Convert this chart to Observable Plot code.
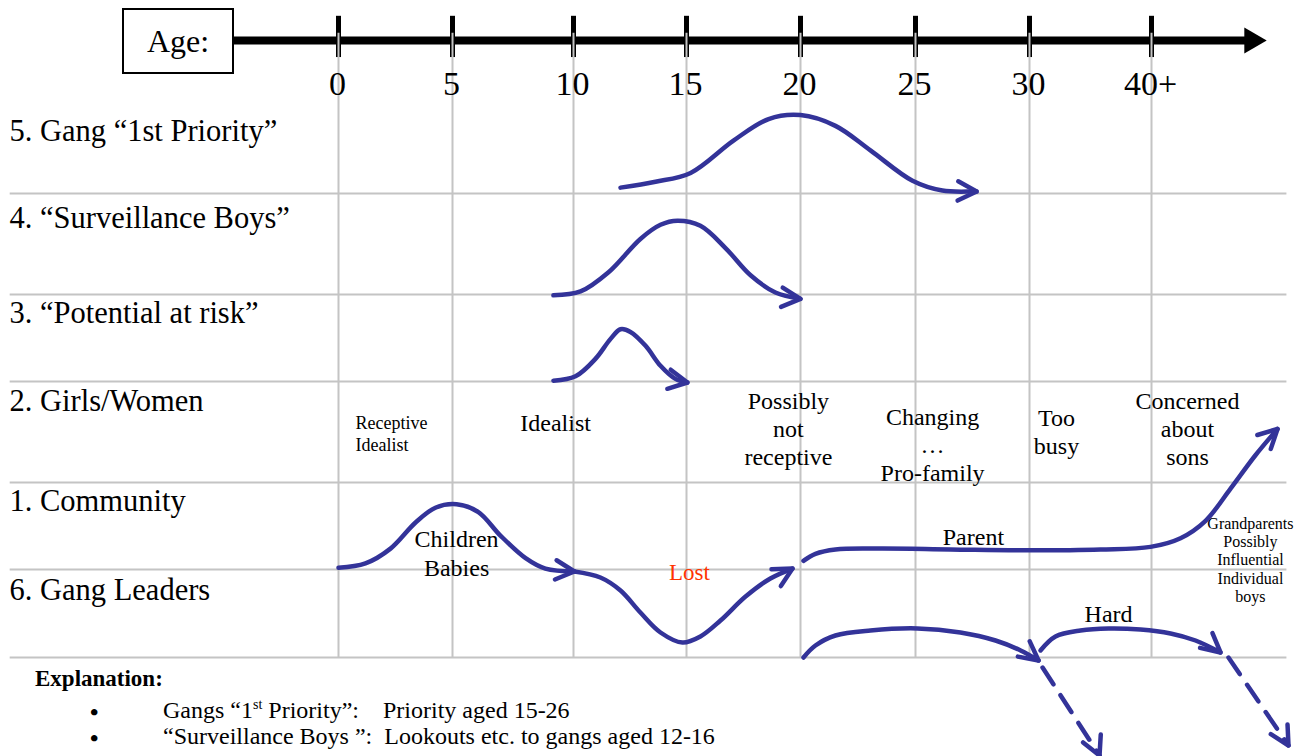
<!DOCTYPE html>
<html>
<head>
<meta charset="utf-8">
<script src="https://cdn.jsdelivr.net/npm/d3@7"></script>
<script src="https://cdn.jsdelivr.net/npm/@observablehq/plot@0.6"></script>
<style>
  body { margin: 0; background: #fff; }
  #wrap { position: relative; width: 1303px; height: 756px; overflow: hidden; font-family: "Liberation Serif", Tinos, "Times New Roman", Times, serif; color: #000; }
  #wrap svg { position: absolute; left: 0; top: 0; }
  #agebox { position: absolute; left: 122px; top: 8px; width: 112px; height: 66px; box-sizing: border-box; border: 2px solid #000; font-size: 32px; display: flex; align-items: center; justify-content: center; background: #fff; }
  .ln { position: absolute; white-space: pre; line-height: 1; }
  .h { left: 35px; top: 667px; font-size: 23px; font-weight: bold; }
  .b { left: 90px; font-size: 24px; font-weight: bold; height: 22px; overflow: visible; }
  .t { left: 163px; font-size: 24px; }
  sup { font-size: 14px; vertical-align: 9px; line-height: 0; }
</style>
</head>
<body>
<div id="wrap">
  <div id="agebox">Age:</div>
  <div class="ln h">Explanation:</div>
  <div class="ln b" style="top:700px">•</div>
  <div class="ln t" style="top:698px">Gangs “1<sup>st</sup> Priority”:    Priority aged 15-26</div>
  <div class="ln b" style="top:726px">•</div>
  <div class="ln t" style="top:724px">“Surveillance Boys ”:  Lookouts etc. to gangs aged 12-16</div>
</div>
<script>
// ---- axis / grid ----
const ageTicks = [0, 5, 10, 15, 20, 25, 30, 40];
const ageTickLabels = ["0", "5", "10", "15", "20", "25", "30", "40+"];
const levelStops = [0, 1, 2, 3, 4, 5, 6, 7];
const rowLines = [0, 1, 2, 3, 4, 5];
const rowLabels = ["5. Gang “1st Priority”", "4. “Surveillance Boys”", "3. “Potential at risk”", "2. Girls/Women", "1. Community", "6. Gang Leaders"];
const rowLabelLevels = [5.64, 4.76, 3.79, 2.80, 1.78, 0.77];

// ---- curves (age, level) ----
const priorityAge = [12.08, 13.63, 15.18, 17.06, 18.60, 20.0, 21.52, 23.04, 24.87, 26.18, 27.50, 27.68];
const priorityLevel = [5.06, 5.12, 5.21, 5.54, 5.76, 5.80, 5.69, 5.44, 5.13, 5.03, 5.02, 5.02];
const surveillanceAge = [9.17, 10.31, 11.55, 12.96, 13.85, 14.60, 15.61, 16.71, 17.81, 18.90, 20.0];
const surveillanceLevel = [3.99, 4.03, 4.22, 4.55, 4.69, 4.73, 4.68, 4.46, 4.19, 4.02, 3.95];
const potentialAge = [9.17, 10.09, 10.97, 11.64, 12.08, 12.52, 13.19, 13.85, 14.51, 15.04];
const potentialLevel = [3.01, 3.06, 3.26, 3.49, 3.60, 3.57, 3.41, 3.18, 3.03, 2.99];
const communityAge = [0, 1.18, 2.28, 3.38, 4.25, 5.17, 6.07, 6.98, 8.02, 8.84, 10.04];
const communityLevel = [1.02, 1.07, 1.24, 1.54, 1.71, 1.75, 1.66, 1.39, 1.13, 1.01, 0.977];
const lostAge = [10.04, 11.19, 12.08, 12.96, 13.85, 14.82, 15.61, 16.49, 17.59, 18.68, 19.65];
const lostLevel = [0.977, 0.909, 0.761, 0.511, 0.284, 0.170, 0.239, 0.420, 0.693, 0.898, 1.011];
const parentAge = [20.13, 20.65, 21.52, 23.48, 26.54, 30.0, 35.82, 39.92, 42.38, 44.43, 46.48, 48.52, 50.33];
const parentLevel = [1.10, 1.18, 1.23, 1.24, 1.23, 1.22, 1.23, 1.26, 1.36, 1.56, 1.93, 2.27, 2.53];
const hard1Age = [20.13, 20.65, 21.52, 23.04, 25.09, 26.97, 28.51, 29.61, 30.74];
const hard1Level = [0, 0.136, 0.25, 0.307, 0.33, 0.284, 0.193, 0.08, -0.034];
const hard2Age = [30.90, 32.13, 34.18, 36.48, 39.10, 41.56, 43.61, 45.66];
const hard2Level = [0.08, 0.239, 0.307, 0.330, 0.318, 0.273, 0.193, 0.057];
const dashed1Age = [31.07, 35.74];
const dashed1Level = [-0.114, -1.114];
const dashed2Age = [46.31, 51.23];
const dashed2Level = [0, -1.0];

// ---- arrowheads ----
const headAge = [27.68, 20.0, 15.04, 10.04, 19.65, 50.33, 30.74, 45.66, 35.74, 51.23];
const headLevel = [5.02, 3.95, 2.99, 0.977, 1.011, 2.53, -0.034, 0.057, -1.114, -1.0];
const headAngle = [92, 95, 100, 95, 61, 46, 128, 130, 156, 150];

// ---- annotations ----
const noteText = ["Idealist", "Possibly\nnot\nreceptive", "Changing\n…\nPro-family", "Too\nbusy", "Concerned\nabout\nsons", "Children\nBabies", "Parent", "Hard"];
const noteAge = [9.26, 19.47, 25.75, 32.21, 42.95, 5.17, 27.54, 36.48];
const noteLevel = [2.60, 2.54, 2.38, 2.51, 2.54, 1.195, 1.39, 0.511];

const blue = "#333399";
const serif = "'Liberation Serif', Tinos, 'Times New Roman', Times, serif";
const zip = (a, b) => a.map((v, i) => ({x: v, y: b[i]}));
const curves = [
  [priorityAge, priorityLevel], [surveillanceAge, surveillanceLevel], [potentialAge, potentialLevel],
  [communityAge, communityLevel], [lostAge, lostLevel], [parentAge, parentLevel],
  [hard1Age, hard1Level], [hard2Age, hard2Level]
].map(([a, b]) => zip(a, b));
const dashed = [[dashed1Age, dashed1Level], [dashed2Age, dashed2Level]].map(([a, b]) => zip(a, b));
const heads = headAge.map((a, i) => ({x: a, y: headLevel[i], r: headAngle[i]}));
const notes = noteText.map((t, i) => ({t, x: noteAge[i], y: noteLevel[i]}));
const ticks = ageTicks.map((a, i) => ({x: a, t: ageTickLabels[i]}));
const rows = rowLabels.map((t, i) => ({t, y: rowLabelLevels[i]}));

const chevron = {
  draw(context, l) {
    const a = l * 0.46, b = l * 0.89;
    context.moveTo(-a, b);
    context.lineTo(0, 0);
    context.lineTo(a, b);
  }
};

const lineStyle = {stroke: blue, strokeWidth: 4.5, strokeLinecap: "round", strokeLinejoin: "round", curve: "catmull-rom"};
const txt = {fontFamily: serif};

const plot = Plot.plot({
  width: 1303,
  height: 756,
  margin: 0,
  style: {fontFamily: serif, background: "transparent", color: "#000", overflow: "visible"},
  x: {type: "linear", domain: ageTicks, range: [338, 452, 573, 686, 800, 915, 1029, 1151], axis: null},
  y: {type: "linear", domain: levelStops, range: [657, 569, 482, 381, 294, 193, 95, 40], axis: null},
  marks: [
    // axis line
    Plot.ruleY([7], {x1: -4.6, x2: 48.0, stroke: "#000", strokeWidth: 8}),
    Plot.dot([{x: 48.22, y: 7}], {x: "x", y: "y", symbol: "triangle", r: 9.6, rotate: 90, fill: "#000", stroke: null}),
    Plot.ruleX(ageTicks, {y1: 6.69, y2: 7.44, stroke: "#000", strokeWidth: 5}),
    // grid
    Plot.ruleY(rowLines, {x1: -14.4, x2: 51.1, stroke: "#c4c4c4", strokeWidth: 2}),
    Plot.ruleX(ageTicks, {y1: 0, y2: 7.13, stroke: "#c4c4c4", strokeWidth: 2}),
    // tick labels
    Plot.text(ticks, {x: "x", y: 6.2, text: "t", fontSize: 34, dx: -1, ...txt}),
    // row labels
    Plot.text(rows, {frameAnchor: "left", y: "y", text: "t", textAnchor: "start", dx: 9, fontSize: 30.5, ...txt}),
    // annotations
    Plot.text([{t: "Receptive\nIdealist"}], {x: 0.75, y: 2.49, text: "t", textAnchor: "start", fontSize: 18, lineHeight: 1.22, ...txt}),
    Plot.text(notes, {x: "x", y: "y", text: "t", fontSize: 24, lineHeight: 1.17, ...txt}),
    Plot.text([{t: "Lost"}], {x: 15.13, y: 0.966, text: "t", fontSize: 23, fill: "#ff3300", ...txt}),
    Plot.text([{t: "Grandparents\nPossibly\nInfluential\nIndividual\nboys"}], {x: 48.11, y: 1.115, text: "t", fontSize: 16, lineHeight: 1.15, ...txt}),
    // curves
    ...curves.map(c => Plot.line(c, {x: "x", y: "y", ...lineStyle})),
    ...dashed.map(c => Plot.line(c, {x: "x", y: "y", stroke: blue, strokeWidth: 4.5, strokeDasharray: "20,13"})),
    Plot.vector(heads, {x: "x", y: "y", rotate: "r", length: 21, anchor: "start", shape: chevron, stroke: blue, strokeWidth: 4.5, strokeLinecap: "round", strokeLinejoin: "round", fill: "none"})
  ]
});
document.getElementById("wrap").prepend(plot);
</script>
</body>
</html>
